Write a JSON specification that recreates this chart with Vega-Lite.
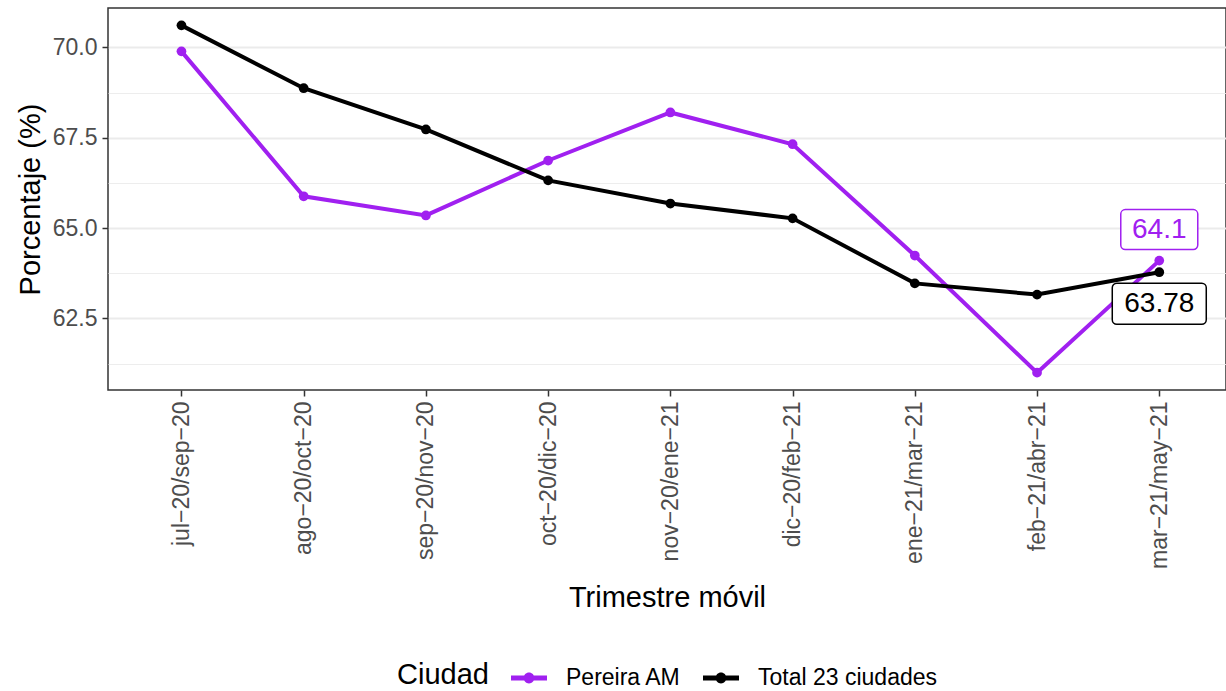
{
  "$schema": "https://vega.github.io/schema/vega-lite/v6.json",
  "width": 1118,
  "height": 382,
  "autosize": "none",
  "padding": {"left": 108, "top": 8, "right": 0, "bottom": 301},
  "background": "white",
  "config": {
    "font": "Liberation Sans",
    "view": {"stroke": "#333333", "strokeWidth": 1.5},
    "axis": {
      "domain": false,
      "gridColor": "#EBEBEB",
      "tickColor": "#333333",
      "tickWidth": 1.5,
      "tickSize": 6,
      "labelColor": "#4D4D4D",
      "labelFontSize": 23,
      "labelPadding": 5,
      "labelOverlap": false,
      "labelFlush": false,
      "titleColor": "black",
      "titleFontSize": 29,
      "titleFontWeight": "normal"
    }
  },
  "data": {
    "values": [
      {"periodo": "jul−20/sep−20", "ciudad": "Pereira AM", "valor": 69.89},
      {"periodo": "ago−20/oct−20", "ciudad": "Pereira AM", "valor": 65.88},
      {"periodo": "sep−20/nov−20", "ciudad": "Pereira AM", "valor": 65.35},
      {"periodo": "oct−20/dic−20", "ciudad": "Pereira AM", "valor": 66.87},
      {"periodo": "nov−20/ene−21", "ciudad": "Pereira AM", "valor": 68.2},
      {"periodo": "dic−20/feb−21", "ciudad": "Pereira AM", "valor": 67.32},
      {"periodo": "ene−21/mar−21", "ciudad": "Pereira AM", "valor": 64.24},
      {"periodo": "feb−21/abr−21", "ciudad": "Pereira AM", "valor": 61.0},
      {"periodo": "mar−21/may−21", "ciudad": "Pereira AM", "valor": 64.1},
      {"periodo": "jul−20/sep−20", "ciudad": "Total 23 ciudades", "valor": 70.61},
      {"periodo": "ago−20/oct−20", "ciudad": "Total 23 ciudades", "valor": 68.87},
      {"periodo": "sep−20/nov−20", "ciudad": "Total 23 ciudades", "valor": 67.73},
      {"periodo": "oct−20/dic−20", "ciudad": "Total 23 ciudades", "valor": 66.32},
      {"periodo": "nov−20/ene−21", "ciudad": "Total 23 ciudades", "valor": 65.68},
      {"periodo": "dic−20/feb−21", "ciudad": "Total 23 ciudades", "valor": 65.27},
      {"periodo": "ene−21/mar−21", "ciudad": "Total 23 ciudades", "valor": 63.47},
      {"periodo": "feb−21/abr−21", "ciudad": "Total 23 ciudades", "valor": 63.16},
      {"periodo": "mar−21/may−21", "ciudad": "Total 23 ciudades", "valor": 63.78}
    ]
  },
  "encoding": {
    "x": {
      "field": "periodo",
      "type": "ordinal",
      "sort": ["jul−20/sep−20", "ago−20/oct−20", "sep−20/nov−20", "oct−20/dic−20", "nov−20/ene−21", "dic−20/feb−21", "ene−21/mar−21", "feb−21/abr−21", "mar−21/may−21"],
      "scale": {"type": "point", "padding": 0.5735, "align": 0.524},
      "axis": {
        "title": "Trimestre móvil",
        "titleY": 207,
        "titleBaseline": "middle",
        "labelAngle": 270,
        "gridWidth": 1.8
      }
    },
    "y": {
      "field": "valor",
      "type": "quantitative",
      "scale": {"domain": [60.52, 71.09], "nice": false, "zero": false},
      "axis": {
        "title": "Porcentaje (%)",
        "titleX": -78,
        "titleBaseline": "middle",
        "values": [61.25, 62.5, 63.75, 65, 66.25, 67.5, 68.75, 70],
        "labelExpr": "datum.value % 2.5 == 0 ? format(datum.value, '.1f') : ''",
        "tickOpacity": {"condition": {"test": "datum.value % 2.5 == 0", "value": 1}, "value": 0},
        "gridWidth": {"condition": {"test": "datum.value % 2.5 == 0", "value": 1.8}, "value": 0.9}
      }
    }
  },
  "layer": [
    {
      "mark": {"type": "line", "strokeWidth": 4},
      "encoding": {
        "color": {
          "field": "ciudad",
          "type": "nominal",
          "scale": {"domain": ["Pereira AM", "Total 23 ciudades"], "range": ["#A020F0", "#000000"]},
          "legend": {
            "orient": "none",
            "legendX": 289,
            "legendY": 652,
            "direction": "horizontal",
            "title": "Ciudad",
            "titleOrient": "left",
            "titleFontSize": 29,
            "titleFontWeight": "normal",
            "titleColor": "black",
            "titlePadding": 22,
            "labelFontSize": 23,
            "labelColor": "black",
            "labelLimit": 0,
            "labelOffset": 19,
            "columnPadding": 21,
            "symbolType": "M-1,-0.14H1V0.14H-1ZM0.3,0A0.3,0.3,0,1,1,-0.3,0A0.3,0.3,0,1,1,0.3,0Z",
            "symbolSize": 1296,
            "symbolStrokeWidth": 0,
            "encode": {"symbols": {"update": {"fill": {"scale": "color", "field": "value"}, "opacity": {"value": 1}}}}
          }
        }
      }
    },
    {
      "mark": {"type": "point", "filled": true, "size": 95, "opacity": 1},
      "encoding": {
        "color": {"field": "ciudad", "type": "nominal"}
      }
    },
    {
      "transform": [{"filter": "datum.ciudad == 'Pereira AM' && datum.periodo == 'mar−21/may−21'"}],
      "mark": {
        "type": "point",
        "shape": "M-3.4,-5.1H3.4A0.45,0.45,0,0,1,3.85,-4.65V-1.55A0.45,0.45,0,0,1,3.4,-1.1H-3.4A0.45,0.45,0,0,1,-3.85,-1.55V-4.65A0.45,0.45,0,0,1,-3.4,-5.1Z",
        "size": 400,
        "filled": true,
        "fill": "white",
        "stroke": "#A020F0",
        "strokeWidth": 1.5,
        "opacity": 1
      }
    },
    {
      "transform": [{"filter": "datum.ciudad == 'Pereira AM' && datum.periodo == 'mar−21/may−21'"}],
      "mark": {"type": "text", "fontSize": 28, "dy": -31, "baseline": "middle", "color": "#A020F0"},
      "encoding": {"text": {"field": "valor", "type": "quantitative", "format": ".1f"}}
    },
    {
      "transform": [{"filter": "datum.ciudad == 'Total 23 ciudades' && datum.periodo == 'mar−21/may−21'"}],
      "mark": {
        "type": "point",
        "shape": "M-4.25,1.1H4.25A0.45,0.45,0,0,1,4.7,1.55V4.75A0.45,0.45,0,0,1,4.25,5.2H-4.25A0.45,0.45,0,0,1,-4.7,4.75V1.55A0.45,0.45,0,0,1,-4.25,1.1Z",
        "size": 400,
        "filled": true,
        "fill": "white",
        "stroke": "#000000",
        "strokeWidth": 1.5,
        "opacity": 1
      }
    },
    {
      "transform": [{"filter": "datum.ciudad == 'Total 23 ciudades' && datum.periodo == 'mar−21/may−21'"}],
      "mark": {"type": "text", "fontSize": 28, "dy": 31.5, "baseline": "middle", "color": "#000000"},
      "encoding": {"text": {"field": "valor", "type": "quantitative", "format": ".2f"}}
    }
  ]
}
